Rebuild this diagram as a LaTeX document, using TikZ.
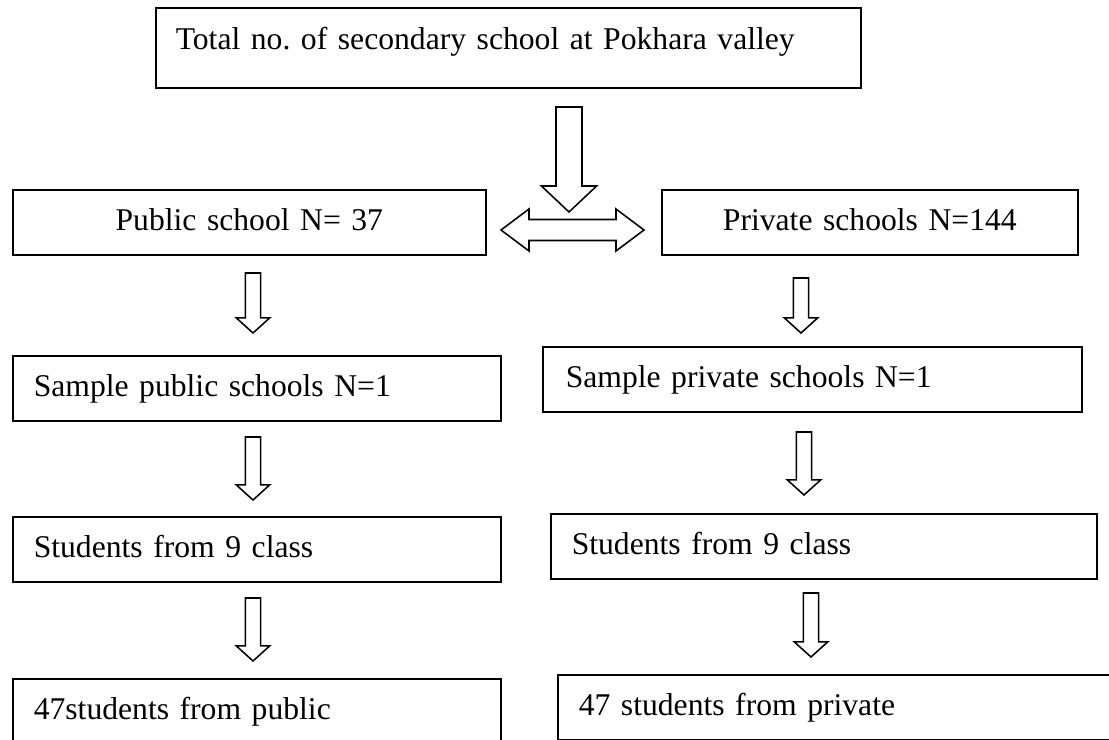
\documentclass[tikz,border=0pt]{standalone}
\usepackage{fontspec}
\setmainfont{Liberation Serif}
\usetikzlibrary{calc}
\frenchspacing

\tikzset{
  box/.style={draw, line width=1.1pt, anchor=north west, inner ysep=0pt,
    inner xsep=0.525cm, text height=1.0cm, text depth=0.6cm,
    minimum height=1.625cm, align=left,
    font=\fontsize{22.5}{27}\selectfont},
  fat down/.style n args={3}{line width=1.1pt,
    to path={let \p1=(\tikztostart), \p2=(\tikztotarget) in
      (\x1-#1,\y1) -- (\x1+#1,\y1) -- (\x1+#1,\y2+#3) -- (\x1+#2,\y2+#3)
      -- (\x2,\y2) -- (\x1-#2,\y2+#3) -- (\x1-#1,\y2+#3) -- cycle}},
  small down/.style={fat down={0.19cm}{0.42cm}{0.38cm}},
  fat both/.style n args={3}{line width=1.1pt,
    to path={let \p1=(\tikztostart), \p2=(\tikztotarget) in
      (\x1,\y1) -- (\x1+#3,\y1+#2) -- (\x1+#3,\y1+#1) -- (\x2-#3,\y1+#1)
      -- (\x2-#3,\y1+#2) -- (\x2,\y2) -- (\x2-#3,\y1-#2) -- (\x2-#3,\y1-#1)
      -- (\x1+#3,\y1-#1) -- (\x1+#3,\y1-#2) -- cycle}}
}

\begin{document}
\begin{tikzpicture}[x=0.025cm, y=-0.025cm]
  \useasboundingbox (0,0) rectangle (1109,740);

  % boxes
  \node[box, text width=16.625cm, inner xsep=0.5cm, minimum height=2cm,
        text height=1.05cm, text depth=0.95cm] (top) at (155,7)
        {Total no. of secondary school at Pokhara valley};
  \node[box, text width=10.825cm, inner xsep=0.5cm, align=center] (pub) at (12,189) {Public school N= 37};
  \node[box, text width=9.4cm, inner xsep=0.5cm, align=center] (priv) at (661,189) {Private schools N=144};
  \node[box, text width=11.15cm] (spub) at (12,355) {Sample public schools N=1};
  \node[box, text width=12.325cm, inner xsep=0.575cm] (spriv) at (542,346) {Sample private schools N=1};
  \node[box, text width=11.15cm] (stpub) at (12,516) {Students from 9 class};
  \node[box, text width=12.6cm] (stpriv) at (550,513) {Students from 9 class};
  \node[box, text width=11.15cm] (fpub) at (12,678) {47students from public};
  \node[box, text width=12.95cm] (fpriv) at (557,674) {47 students from private};

  % arrow ends
  \coordinate (ta) at (569,107);  \coordinate (tb) at (569,212);
  \coordinate (dl) at (501,230);  \coordinate (dr) at (644,230);
  \coordinate (pa1) at (253,273); \coordinate (pb1) at (253,333);
  \coordinate (pa2) at (253,437); \coordinate (pb2) at (253,500);
  \coordinate (pa3) at (253,598); \coordinate (pb3) at (253,661);
  \coordinate (qa1) at (801,278); \coordinate (qb1) at (801,333);
  \coordinate (qa2) at (804,432); \coordinate (qb2) at (804,495);
  \coordinate (qa3) at (811,593); \coordinate (qb3) at (811,657);

  % arrows
  \draw[fat down={0.325cm}{0.69cm}{0.65cm}] (ta) to (tb);
  \draw[fat both={0.2625cm}{0.525cm}{0.7cm}] (dl) to (dr);
  \draw[small down] (pa1) to (pb1);
  \draw[small down] (pa2) to (pb2);
  \draw[small down] (pa3) to (pb3);
  \draw[small down] (qa1) to (qb1);
  \draw[small down] (qa2) to (qb2);
  \draw[small down] (qa3) to (qb3);
\end{tikzpicture}
\end{document}
